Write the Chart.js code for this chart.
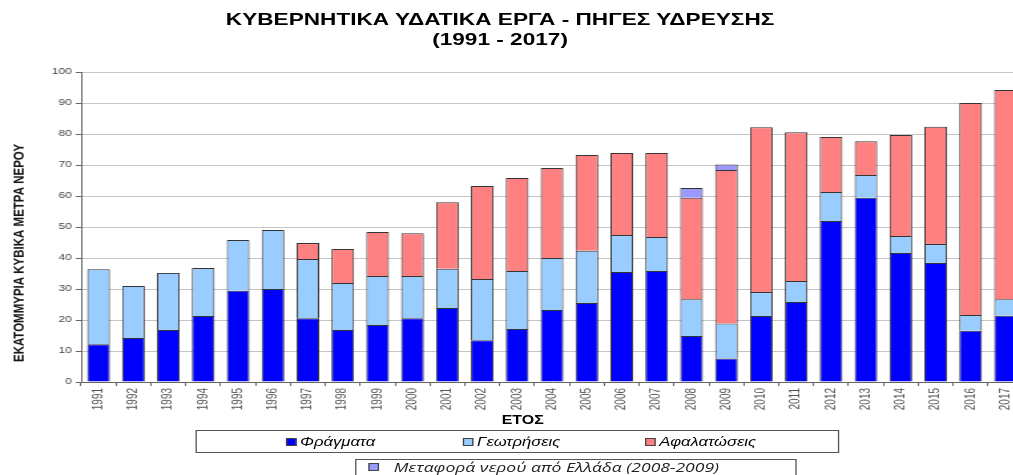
<!DOCTYPE html>
<html>
<head>
<meta charset="utf-8">
<script src="https://cdn.jsdelivr.net/npm/chart.js@4/dist/chart.umd.min.js"></script>
<style>
    html, body { margin: 0; padding: 0; background: #fff; overflow: hidden; }
    body { width: 1013px; height: 475px; position: relative; font-family: "Liberation Sans", Arial, sans-serif; }
    /* the original picture is stretched sideways, so the whole page is laid out narrow and scaled */
    #wrap { position: absolute; left: 0; top: 0; width: 770px; height: 475px; transform: scaleX(1.33); transform-origin: 0 0; }
    #chart { position: absolute; left: 0; top: 0; }
    #title { position: absolute; left: 0; top: 10px; width: 752px; text-align: center; font-weight: bold; font-size: 17px; line-height: 20px; color: #000; }
    #ytitle { position: absolute; left: 13.5px; top: 253px; transform: translate(-50%, -50%) rotate(-90deg); white-space: nowrap; font-weight: bold; font-size: 11.5px; color: #111; }
    #xtitle { position: absolute; left: 393px; top: 420px; transform: translate(-50%, -50%); font-weight: bold; font-size: 12px; }
    .legend-box { position: absolute; border: 1px solid #555; box-sizing: border-box; background: #fff; }
    #legend1 { left: 146.6px; top: 430px; width: 484px; height: 23px; font-style: italic; font-size: 12.5px; }
    #legend2 { left: 267px; top: 459px; width: 332px; height: 24px; font-family: "Open Sans", sans-serif; font-style: italic; font-size: 13.2px; color: #222; }
    .item { position: absolute; display: flex; align-items: center; white-space: nowrap; }
    #legend1 .item { top: 3px; height: 16px; }
    #legend2 .item { top: -1px; height: 16px; }
    .swatch { width: 6px; height: 6px; border: 1px solid #444; margin-right: 3px; }
    #legend2 .swatch { margin-right: 11px; }
</style>
</head>
<body>
<div id="wrap">
    <div id="title">ΚΥΒΕΡΝΗΤΙΚΑ ΥΔΑΤΙΚΑ ΕΡΓΑ - ΠΗΓΕΣ ΥΔΡΕΥΣΗΣ<br>(1991 - 2017)</div>
    <canvas id="chart" width="770" height="430" style="width:770px;height:430px"></canvas>
    <div id="ytitle">ΕΚΑΤΟΜΜΥΡΙΑ ΚΥΒΙΚΑ ΜΕΤΡΑ ΝΕΡΟΥ</div>
    <div id="xtitle">ΕΤΟΣ</div>
    <div id="legend1" class="legend-box"></div>
    <div id="legend2" class="legend-box"></div>
</div>
<script>
// Data (million cubic metres)
const years = ['1991', '1992', '1993', '1994', '1995', '1996', '1997', '1998', '1999', '2000',
    '2001', '2002', '2003', '2004', '2005', '2006', '2007', '2008', '2009', '2010',
    '2011', '2012', '2013', '2014', '2015', '2016', '2017'];

const fragmata = [12.2, 14.2, 16.8, 21.3, 29.4, 30.0, 20.6, 16.8, 18.4, 20.6,
    23.9, 13.5, 17.1, 23.2, 25.5, 35.5, 35.8, 14.8, 7.6, 21.3,
    25.8, 51.9, 59.4, 41.6, 38.4, 16.5, 21.4];

const geotriseis = [24.2, 16.8, 18.4, 15.5, 16.4, 19.0, 19.1, 15.1, 15.8, 13.6,
    12.6, 19.7, 18.7, 16.8, 16.8, 11.9, 11.0, 11.9, 11.3, 7.7,
    6.8, 9.4, 7.4, 5.5, 6.1, 5.1, 5.3];

const afalatoseis = [null, null, null, null, null, null, 5.1, 11.0, 14.2, 13.8,
    21.5, 30.0, 30.0, 29.0, 30.9, 26.5, 27.1, 32.7, 49.5, 53.2,
    48.0, 17.7, 10.9, 32.6, 37.8, 68.4, 67.5];

const metafora = [null, null, null, null, null, null, null, null, null, null,
    null, null, null, null, null, null, null, 3.2, 1.8, null,
    null, null, null, null, null, null, null];

const yTicks = [0, 10, 20, 30, 40, 50, 60, 70, 80, 90, 100];

const seriesLabels = ['Φράγματα', 'Γεωτρήσεις', 'Αφαλατώσεις', 'Μεταφορά νερού από Ελλάδα (2008-2009)'];
const seriesColors = ['#0000ff', '#99ccff', '#ff8080', '#9999ff'];
const seriesData = [fragmata, geotriseis, afalatoseis, metafora];

const chart = new Chart(document.getElementById('chart'), {
    type: 'bar',
    data: {
        labels: years,
        datasets: seriesData.map((d, i) => ({
            label: seriesLabels[i],
            data: d,
            backgroundColor: seriesColors[i],
            borderColor: '#333',
            borderWidth: 1,
            barPercentage: 0.65,
            categoryPercentage: 1
        }))
    },
    options: {
        responsive: false,
        animation: false,
        devicePixelRatio: 1,
        layout: { padding: { top: 72, right: 0, left: 0, bottom: 0 } },
        plugins: {
            legend: { display: false },
            title: { display: false },
            tooltip: { enabled: false }
        },
        scales: {
            x: {
                stacked: true,
                grid: { display: true, drawOnChartArea: false, tickLength: 4, color: '#666' },
                border: { color: '#666' },
                ticks: {
                    minRotation: 90, maxRotation: 90, padding: 2,
                    autoSkip: false,
                    color: '#555',
                    font: { family: 'Liberation Sans', size: 10 }
                },
                afterFit: scale => { scale.height = 48; }
            },
            y: {
                stacked: true,
                min: 0, max: 100,
                afterBuildTicks: scale => { scale.ticks = yTicks.map(v => ({ value: v })); },
                grid: { color: '#c4c4c4', tickLength: 4, tickColor: '#666' },
                border: { color: '#666' },
                ticks: {
                    padding: 3,
                    color: '#444',
                    font: { family: 'Liberation Sans', size: 9 }
                },
                afterFit: scale => { scale.width = 61; }
            }
        }
    }
});

// HTML legend built from the chart's datasets (two boxes, like the original)
const itemLefts = [67, 200, 337, 9];
function addItem(box, ds, left) {
    const item = document.createElement('div');
    item.className = 'item';
    item.style.left = left + 'px';
    item.innerHTML = `<span class="swatch" style="background:${ds.backgroundColor}"></span>${ds.label}`;
    box.appendChild(item);
}
chart.data.datasets.forEach((ds, i) => {
    addItem(document.getElementById(i < 3 ? 'legend1' : 'legend2'), ds, itemLefts[i]);
});
</script>
</body>
</html>
